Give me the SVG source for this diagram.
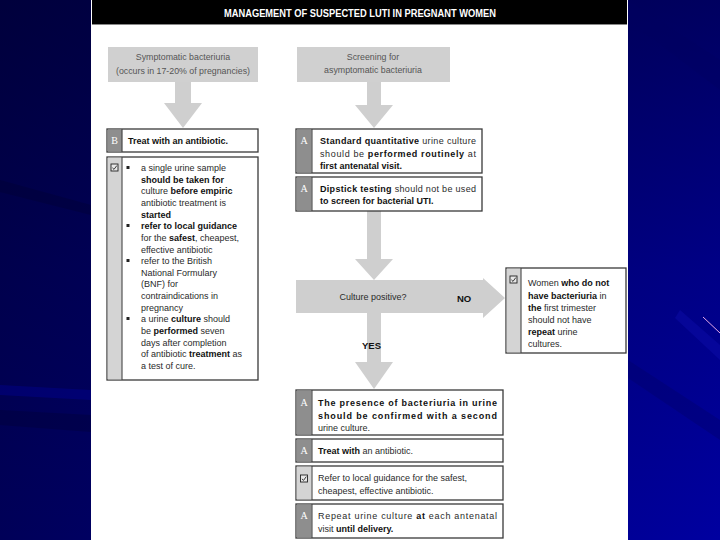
<svg xmlns="http://www.w3.org/2000/svg" width="720" height="540" viewBox="0 0 720 540">
<defs>
<linearGradient id="bgH" x1="0" y1="0" x2="1" y2="0">
<stop offset="0" stop-color="#000058"/>
<stop offset="1" stop-color="#0000a0"/>
</linearGradient>
<linearGradient id="bgV" x1="0" y1="0" x2="0" y2="1">
<stop offset="0" stop-color="#000020" stop-opacity="0.5"/>
<stop offset="0.5" stop-color="#000020" stop-opacity="0.2"/>
<stop offset="1" stop-color="#000020" stop-opacity="0"/>
</linearGradient>
<g id="chk">
<rect x="0" y="0" width="7" height="7" fill="#e8e8e8" stroke="#222" stroke-width="0.9"/>
<path d="M1.4 3.8 L3 5.4 L5.8 1.6" fill="none" stroke="#222" stroke-width="0.9"/>
</g>
</defs>
<style>
.box{fill:#ffffff;stroke:#3a3a3a;stroke-width:1.3}
.colA{fill:#8e8e8e}
.colC{fill:#d4d4d4}
.grey{fill:#d0d0d0}
.arr{fill:#cfcfcf}
.t{font-family:"Liberation Sans",Arial,sans-serif;font-size:9px;fill:#2a2a2a}
.s{font-family:"Liberation Sans",Arial,sans-serif;font-size:9px;fill:#2a2a2a}
.g{font-family:"Liberation Sans",Arial,sans-serif;font-size:8.8px;fill:#555555}
.b{font-weight:bold;fill:#111}
.L{font-family:"Liberation Serif","Times New Roman",serif;font-size:10px;fill:#ffffff}
.lab{font-family:"Liberation Sans",Arial,sans-serif;font-size:9.5px;font-weight:bold;fill:#111}
</style>

<!-- background -->
<rect x="0" y="0" width="720" height="540" fill="url(#bgH)"/>
<rect x="0" y="0" width="720" height="540" fill="url(#bgV)"/>
<path d="M0 180 L91 205 L91 215 L0 192 Z" fill="#000030" opacity="0.35"/>
<path d="M0 385 L91 390 L91 400 L0 395 Z" fill="#0000a0" opacity="0.35"/>
<path d="M0 410 L91 415 L91 432 L0 425 Z" fill="#000030" opacity="0.3"/>
<path d="M628 0 L720 60 L720 90 L628 20 Z" fill="#000060" opacity="0.3"/>
<path d="M680 310 L720 345 L720 360 L675 318 Z" fill="#1010b0" opacity="0.4"/>
<path d="M628 360 L720 420 L720 440 L628 378 Z" fill="#000060" opacity="0.3"/>
<line x1="703" y1="317" x2="720" y2="333" stroke="#e6a8e6" stroke-width="1"/>

<!-- panel -->
<rect x="91" y="0" width="537" height="540" fill="#ffffff"/>
<g id="title">
<rect x="92" y="0" width="535" height="24" fill="#000000"/>
<line x1="92" y1="24.5" x2="627" y2="24.5" stroke="#888" stroke-width="1"/>
<text x="360" y="17" text-anchor="middle" textLength="272" lengthAdjust="spacingAndGlyphs" font-family="Liberation Sans, Arial, sans-serif" font-size="10.5" font-weight="bold" fill="#ffffff">MANAGEMENT OF SUSPECTED LUTI IN PREGNANT WOMEN</text>
</g>

<g id="culture">
<rect class="arr" x="296" y="280" width="187" height="33"/>
<text class="t" x="373" y="300" text-anchor="middle" fill="#222">Culture positive?</text>
</g>

<!-- connectors -->
<g id="connectors">
<polygon class="arr" points="175,82 191,82 191,103 202,103 183,128 164,103 175,103"/>
<polygon class="arr" points="367,82 381,82 381,105 393,105 374,128 355,105 367,105"/>
<polygon class="arr" points="367,211 381,211 381,259 393,259 374,280 355,259 367,259"/>
<polygon class="arr" points="367,313 381,313 381,362 393,362 374,389 355,362 367,362"/>
<polygon class="arr" points="482,280 483,280 483,278 505,298 483,318 483,313 482,313"/>
<text class="lab" x="457" y="302">NO</text>
<text class="lab" x="362" y="349">YES</text>
</g>

<!-- left column -->
<g id="symptomatic">
<rect class="grey" x="108" y="47" width="150" height="35"/>
<text class="g" x="183" y="60" text-anchor="middle">Symptomatic bacteriuria</text>
<text class="g" x="183" y="74" text-anchor="middle">(occurs in 17-20% of pregnancies)</text>
</g>
<g id="treatB">
<rect class="box" x="107" y="129" width="151" height="23"/>
<rect class="colA" x="107.7" y="129.7" width="14.5" height="21.6"/>
<line x1="122" y1="129" x2="122" y2="152" stroke="#3a3a3a" stroke-width="1"/>
<text class="L" x="114.5" y="144" text-anchor="middle">B</text>
<text class="t b" x="128" y="144">Treat with an antibiotic.</text>
</g>
<g id="bullets">
<rect class="box" x="107" y="157" width="151" height="223"/>
<rect class="colC" x="107.7" y="157.7" width="14.5" height="221.6"/>
<line x1="122" y1="157" x2="122" y2="380" stroke="#3a3a3a" stroke-width="1"/>
<use href="#chk" x="111" y="164"/>
<rect x="126.5" y="166" width="3" height="3" fill="#222"/>
<rect x="126.5" y="224" width="3" height="3" fill="#222"/>
<rect x="126.5" y="259" width="3" height="3" fill="#222"/>
<rect x="126.5" y="317" width="3" height="3" fill="#222"/>
<text class="s" x="141" y="171">a single urine sample</text>
<text class="s" x="141" y="182.6"><tspan class="b">should be taken for</tspan></text>
<text class="s" x="141" y="194.3">culture <tspan class="b">before empiric</tspan></text>
<text class="s" x="141" y="205.9">antibiotic treatment is</text>
<text class="s" x="141" y="217.6"><tspan class="b">started</tspan></text>
<text class="s" x="141" y="229.2"><tspan class="b">refer to local guidance</tspan></text>
<text class="s" x="141" y="240.9">for the <tspan class="b">safest</tspan>, cheapest,</text>
<text class="s" x="141" y="252.5">effective antibiotic</text>
<text class="s" x="141" y="264.2">refer to the British</text>
<text class="s" x="141" y="275.8">National Formulary</text>
<text class="s" x="141" y="287.4">(BNF) for</text>
<text class="s" x="141" y="299.1">contraindications in</text>
<text class="s" x="141" y="310.7">pregnancy</text>
<text class="s" x="141" y="322.4">a urine <tspan class="b">culture</tspan> should</text>
<text class="s" x="141" y="334">be <tspan class="b">performed</tspan> seven</text>
<text class="s" x="141" y="345.7">days after completion</text>
<text class="s" x="141" y="357.3">of antibiotic <tspan class="b">treatment</tspan> as</text>
<text class="s" x="141" y="369">a test of cure.</text>
</g>

<!-- right column -->
<g id="screening">
<rect class="grey" x="297" y="47" width="153" height="35"/>
<text class="g" x="373" y="60" text-anchor="middle">Screening for</text>
<text class="g" x="373" y="73" text-anchor="middle">asymptomatic bacteriuria</text>
</g>
<g id="standard">
<rect class="box" x="296" y="129" width="186" height="44"/>
<rect class="colA" x="296.7" y="129.7" width="15" height="42.6"/>
<line x1="312" y1="129" x2="312" y2="173" stroke="#3a3a3a" stroke-width="1"/>
<text class="L" x="304" y="144" text-anchor="middle">A</text>
<text class="t" x="320" y="144" textLength="156" lengthAdjust="spacing"><tspan class="b">Standard quantitative</tspan> urine culture</text>
<text class="t" x="320" y="156.5" textLength="156" lengthAdjust="spacing">should be <tspan class="b">performed routinely</tspan> at</text>
<text class="t b" x="320" y="169">first antenatal visit.</text>
</g>
<g id="dipstick">
<rect class="box" x="296" y="177" width="186" height="34"/>
<rect class="colA" x="296.7" y="177.7" width="15" height="32.6"/>
<line x1="312" y1="177" x2="312" y2="211" stroke="#3a3a3a" stroke-width="1"/>
<text class="L" x="304" y="192" text-anchor="middle">A</text>
<text class="t" x="320" y="192" textLength="156" lengthAdjust="spacing"><tspan class="b">Dipstick testing</tspan> should not be used</text>
<text class="t b" x="320" y="204">to screen for bacterial UTI.</text>
</g>
<g id="noBox">
<rect class="box" x="506" y="268" width="120" height="85"/>
<rect class="colC" x="506.7" y="268.7" width="14.5" height="83.6"/>
<line x1="521" y1="268" x2="521" y2="353" stroke="#3a3a3a" stroke-width="1"/>
<use href="#chk" x="510" y="276"/>
<text class="s" x="528" y="286">Women <tspan class="b">who do not</tspan></text>
<text class="s" x="528" y="298.5"><tspan class="b">have bacteriuria</tspan> in</text>
<text class="s" x="528" y="310.5"><tspan class="b">the</tspan> first trimester</text>
<text class="s" x="528" y="322.5">should not have</text>
<text class="s" x="528" y="334.5"><tspan class="b">repeat</tspan> urine</text>
<text class="s" x="528" y="346.5">cultures.</text>
</g>
<g id="confirm">
<rect class="box" x="296" y="390" width="207" height="45"/>
<rect class="colA" x="296.7" y="390.7" width="15" height="43.6"/>
<line x1="312" y1="390" x2="312" y2="435" stroke="#3a3a3a" stroke-width="1"/>
<text class="L" x="304" y="406" text-anchor="middle">A</text>
<text class="t b" x="318" y="406" textLength="179" lengthAdjust="spacing">The presence of bacteriuria in urine</text>
<text class="t b" x="318" y="418.5" textLength="179" lengthAdjust="spacing">should be confirmed with a second</text>
<text class="t" x="318" y="431">urine culture.</text>
</g>
<g id="treatA">
<rect class="box" x="296" y="439" width="207" height="23"/>
<rect class="colA" x="296.7" y="439.7" width="15" height="21.6"/>
<line x1="312" y1="439" x2="312" y2="462" stroke="#3a3a3a" stroke-width="1"/>
<text class="L" x="304" y="454" text-anchor="middle">A</text>
<text class="t" x="318" y="454"><tspan class="b">Treat with</tspan> an antibiotic.</text>
</g>
<g id="refer">
<rect class="box" x="296" y="466" width="207" height="34"/>
<rect class="colC" x="296.7" y="466.7" width="15" height="32.6"/>
<line x1="312" y1="466" x2="312" y2="500" stroke="#3a3a3a" stroke-width="1"/>
<use href="#chk" x="300.5" y="475"/>
<text class="t" x="318" y="481">Refer to local guidance for the safest,</text>
<text class="t" x="318" y="494">cheapest, effective antibiotic.</text>
</g>
<g id="repeat">
<rect class="box" x="296" y="504" width="207" height="34"/>
<rect class="colA" x="296.7" y="504.7" width="15" height="32.6"/>
<line x1="312" y1="504" x2="312" y2="538" stroke="#3a3a3a" stroke-width="1"/>
<text class="L" x="304" y="519" text-anchor="middle">A</text>
<text class="t" x="318" y="519" textLength="179" lengthAdjust="spacing">Repeat urine culture <tspan class="b">at</tspan> each antenatal</text>
<text class="t" x="318" y="532">visit <tspan class="b">until delivery.</tspan></text>
</g>
</svg>
